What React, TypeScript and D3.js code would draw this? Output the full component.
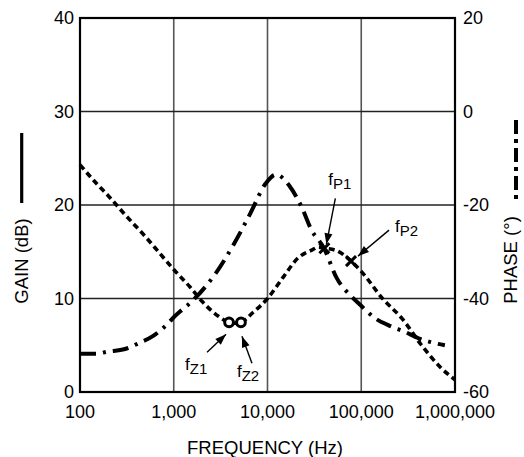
import React from "react";
import * as d3 from "d3";

// ---- data ----
const freqTicks = [100, 1000, 10000, 100000, 1000000];
const freqTickLabels = ["100", "1,000", "10,000", "100,000", "1,000,000"];
const gainTicks = [0, 10, 20, 30, 40];
const phaseTicks = [-60, -40, -20, 0, 20];

const gainFreq = [100, 150, 200, 300, 500, 700, 1000, 1500, 2000, 3000, 3890, 4500, 5210, 7000, 10000, 15000, 21000, 30000, 35000, 40000, 55000, 78000, 100000, 172000, 270000, 440000, 690000, 1000000];
const gainDb = [24.3, 22.3, 21.0, 19.0, 16.6, 14.9, 13.1, 11.2, 9.7, 8.1, 7.45, 7.35, 7.45, 8.5, 10.0, 12.4, 14.3, 15.2, 15.5, 15.4, 15.1, 14.0, 12.9, 9.9, 7.9, 5.0, 2.7, 1.3];

const phaseFreq = [100, 150, 193, 302, 430, 604, 852, 1000, 1166, 1617, 2760, 4310, 6520, 9560, 12300, 17400, 23200, 29400, 39700, 55000, 79000, 98000, 140000, 204000, 290000, 408000, 660000, 780000];
const phaseDeg = [-51.8, -51.8, -51.4, -50.8, -49.5, -48.0, -45.5, -44.0, -42.8, -40.3, -34.8, -28.6, -21.9, -15.4, -13.5, -16.1, -20.5, -25.3, -29.1, -35.7, -39.6, -41.4, -44.2, -45.9, -47.1, -48.5, -49.7, -50.0];

const markerSub = ["Z1", "Z2", "P1", "P2"];
const markerFreq = [3890, 5210, 40400, 77800];
const markerGain = [7.45, 7.45, 15.37, 14.0];
const markerKind = ["o", "o", "x", "x"];

// label / arrow offsets (px) relative to markers — styling only
const labelOff = [[-44, 48], [-4, 55], [4, -63], [44, -29]];
const arrowFrom = [[-22, 30], [11, 41], [11, -50], [38, -31]];
const arrowTip = [[-3, 12], [1, 14], [2, -4], [7, -5]];

const W = 524, H = 457;
const L = 80, R = 455, T = 18, B = 392;
const FONT = "Liberation Sans, Arial, Helvetica, sans-serif";

export default function App() {
  const x = d3.scaleLog().domain([100, 1000000]).range([L, R]);
  const yG = d3.scaleLinear().domain([0, 40]).range([B, T]);
  const yP = d3.scaleLinear().domain([-60, 20]).range([B, T]);

  const gainLine = d3.line<number>()
    .x((_, i) => x(gainFreq[i]))
    .y((d) => yG(d))
    .curve(d3.curveMonotoneX);
  const phaseLine = d3.line<number>()
    .x((_, i) => x(phaseFreq[i]))
    .y((d) => yP(d))
    .curve(d3.curveMonotoneX);

  const arrowHead = (x1: number, y1: number, x2: number, y2: number) => {
    const a = Math.atan2(y2 - y1, x2 - x1);
    const len = 11, w = 4;
    const bx = x2 - len * Math.cos(a), by = y2 - len * Math.sin(a);
    const px = -Math.sin(a) * w, py = Math.cos(a) * w;
    return `M${x2},${y2}L${bx + px},${by + py}L${bx - px},${by - py}Z`;
  };

  return (
    <svg width={W} height={H} style={{ position: "absolute", left: 0, top: 0, background: "#fff" }} fontFamily={FONT}>
      {/* grid */}
      {freqTicks.slice(1, -1).map((f) => (
        <line key={"v" + f} x1={x(f)} x2={x(f)} y1={T} y2={B} stroke="#555" strokeWidth={1.6} />
      ))}
      {gainTicks.slice(1, -1).map((g) => (
        <line key={"h" + g} x1={L} x2={R} y1={yG(g)} y2={yG(g)} stroke="#222" strokeWidth={1.4} />
      ))}
      <rect x={L} y={T} width={R - L} height={B - T} fill="none" stroke="#000" strokeWidth={2.2} />

      {/* tick labels */}
      {gainTicks.map((g) => (
        <text key={"gl" + g} x={L - 6} y={yG(g)} dy="0.35em" textAnchor="end" fontSize={18}>{g}</text>
      ))}
      {phaseTicks.map((p) => (
        <text key={"pl" + p} x={R + 8} y={yP(p)} dy="0.35em" textAnchor="start" fontSize={18}>{p}</text>
      ))}
      {freqTicks.map((f, i) => (
        <text key={"fl" + f} x={x(f)} y={418} textAnchor="middle" fontSize={18}>{freqTickLabels[i]}</text>
      ))}

      {/* axis titles */}
      <text x={265} y={454} textAnchor="middle" fontSize={18.5}>FREQUENCY (Hz)</text>
      <text transform="translate(28,261) rotate(-90)" textAnchor="middle" fontSize={18.5}>GAIN (dB)</text>
      <line x1={21.7} x2={21.7} y1={133} y2={203} stroke="#000" strokeWidth={3.2} />
      <text transform="translate(517,260) rotate(-90)" textAnchor="middle" fontSize={18.5}>PHASE (°)</text>
      <line x1={516} x2={516} y1={120} y2={200} stroke="#000" strokeWidth={4} strokeDasharray="14,5,4,5" />

      {/* curves */}
      <path d={phaseLine(phaseDeg) || ""} fill="none" stroke="#000" strokeWidth={4} strokeDasharray="16,7,3,7" />
      <path d={gainLine(gainDb) || ""} fill="none" stroke="#000" strokeWidth={3.6} strokeDasharray="6,4" />

      {/* markers and annotations */}
      {markerSub.map((s, i) => {
        const mx = x(markerFreq[i]);
        const my = yG(markerGain[i]);
        const tx = mx + labelOff[i][0];
        const ty = my + labelOff[i][1];
        const ax1 = mx + arrowFrom[i][0], ay1 = my + arrowFrom[i][1];
        const ax2 = mx + arrowTip[i][0], ay2 = my + arrowTip[i][1];
        return (
          <g key={s}>
            {markerKind[i] === "o" ? (
              <circle cx={mx} cy={my} r={4.4} fill="#fff" stroke="#000" strokeWidth={3} />
            ) : (
              <g stroke="#000" strokeWidth={3}>
                <line x1={mx - 5} y1={my - 5} x2={mx + 5} y2={my + 5} />
                <line x1={mx - 5} y1={my + 5} x2={mx + 5} y2={my - 5} />
              </g>
            )}
            <line x1={ax1} y1={ay1} x2={ax2} y2={ay2} stroke="#000" strokeWidth={1.4} />
            <path d={arrowHead(ax1, ay1, ax2, ay2)} fill="#000" />
            <text x={tx} y={ty} fontSize={17}>
              f<tspan fontSize={15} dy={3.5}>{s}</tspan>
            </text>
          </g>
        );
      })}
    </svg>
  );
}
